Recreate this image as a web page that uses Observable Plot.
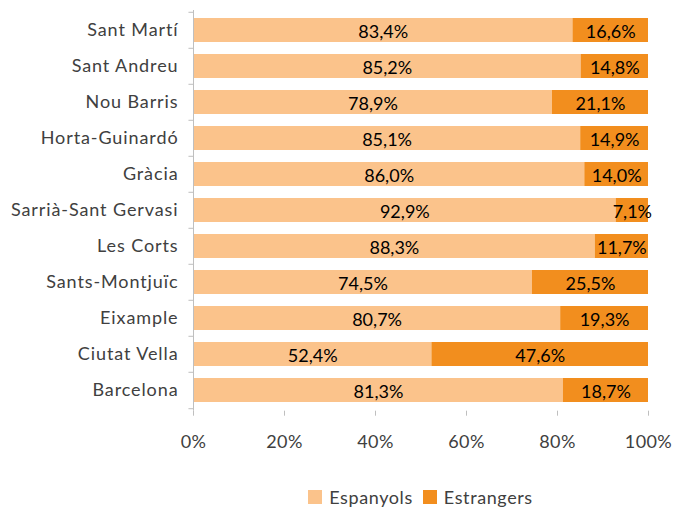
<!DOCTYPE html>
<html>
<head>
<meta charset="utf-8">
<script src="https://cdn.jsdelivr.net/npm/d3@7"></script>
<script src="https://cdn.jsdelivr.net/npm/@observablehq/plot@0.6"></script>
<style>
  body { margin: 0; background: #fff; font-family: Lato, "Open Sans", sans-serif; }
  #legend { display: flex; justify-content: center; align-items: center; gap: 10px; font-size: 18px; letter-spacing: 0.6px; color: #404040; margin-top: 8px; padding-left: 193px; padding-right: 26px; }
  #legend .item { display: flex; align-items: center; gap: 7px; }
  #legend .sw { width: 14px; height: 14px; display: inline-block; }
</style>
</head>
<body>
<div id="chart"></div>
<div id="legend"></div>
<script>
const districts = ["Sant Martí","Sant Andreu","Nou Barris","Horta-Guinardó","Gràcia","Sarrià-Sant Gervasi","Les Corts","Sants-Montjuïc","Eixample","Ciutat Vella","Barcelona"];
const espanyols = [83.4,85.2,78.9,85.1,86.0,92.9,88.3,74.5,80.7,52.4,81.3];
const estrangers = [16.6,14.8,21.1,14.9,14.0,7.1,11.7,25.5,19.3,47.6,18.7];
const seriesNames = ["Espanyols","Estrangers"];
const colors = ["#FBC38B","#F28E1E"];
const xTicks = [0,20,40,60,80,100];

const rows = [];
districts.forEach((d,i) => {
  rows.push({district: d, serie: seriesNames[0], x1: 0, x2: espanyols[i], v: espanyols[i]});
  rows.push({district: d, serie: seriesNames[1], x1: espanyols[i], x2: espanyols[i] + estrangers[i], v: estrangers[i]});
});
const fmt = v => v.toFixed(1).replace(".", ",") + "%";

const W = 674, H = 478, mt = 10, mb = 67.3;
const step = (H - mt - mb) / districts.length;

const chart = Plot.plot({
  width: W, height: H,
  marginLeft: 193, marginRight: 26, marginTop: mt, marginBottom: mb,
  style: {fontFamily: "Lato, 'Open Sans', sans-serif", fontSize: "18px", color: "#404040", background: "#fff"},
  x: {domain: [0,100], ticks: xTicks, tickFormat: d => d + "%", label: null},
  y: {domain: districts, paddingInner: 0.34, paddingOuter: 0.17, label: null},
  color: {domain: seriesNames, range: colors},
  marks: [
    Plot.barX(rows, {y: "district", x1: "x1", x2: "x2", fill: "serie"}),
    Plot.text(rows, {y: "district", x: d => (d.x1 + d.x2)/2, text: d => fmt(d.v), fill: "#000", fontSize: 18, dy: 1.5}),
    Plot.axisX({ticks: xTicks, tickFormat: d => d + "%", tickSize: 5, tickPadding: 19, stroke: "#bfbfbf", fill: "#404040", fontSize: 18, label: null}),
    Plot.ruleY([0], {stroke: "#bfbfbf"}),
    Plot.ruleX([0], {stroke: "#bfbfbf"}),
    Plot.axisY({tickSize: 0, tickPadding: 15, fill: "#404040", fontSize: 18, label: null}),
    Plot.ruleY(districts, {y: d => d, x1: -1, x2: 0, dy: -step/2, stroke: "#bfbfbf"}),
    Plot.ruleY(districts.slice(-1), {y: d => d, x1: -1, x2: 0, dy: step/2, stroke: "#bfbfbf"})
  ]
});
d3.select(chart).selectAll('g[aria-label="y-axis tick label"] text').style("letter-spacing", "0.9px");
d3.select(chart).selectAll('g[aria-label="x-axis tick label"] text').style("letter-spacing", "0.4px");
document.getElementById("chart").appendChild(chart);

const legend = document.getElementById("legend");
seriesNames.forEach((s, i) => {
  const it = document.createElement("span");
  it.className = "item";
  it.innerHTML = `<span class="sw" style="background:${colors[i]}"></span><span>${s}</span>`;
  legend.appendChild(it);
});
</script>
</body>
</html>
